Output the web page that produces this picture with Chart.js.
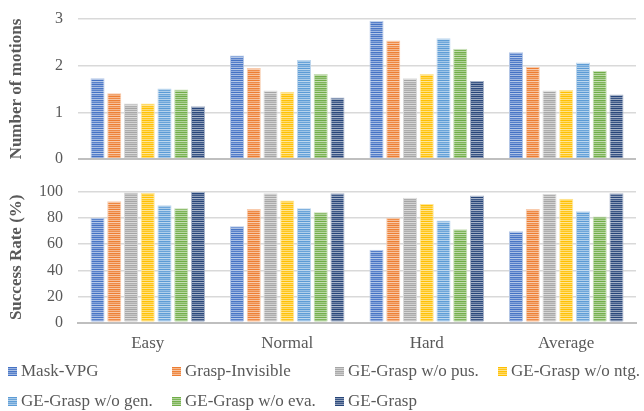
<!DOCTYPE html>
<html>
<head>
<meta charset="utf-8">
<script src="https://cdn.jsdelivr.net/npm/chart.js@4"></script>
<style>
  html, body { margin: 0; padding: 0; background: #fff; }
  #wrap { position: relative; width: 644px; height: 411px; overflow: hidden; }
  #chart-top { position: absolute; left: 0; top: 0; }
  #chart-bottom { position: absolute; left: 0; top: 165px; }
  #legend { position: absolute; left: 0; top: 0; width: 644px; height: 411px; font: 17px "Liberation Serif", serif; color: #595959; }
  .item { position: absolute; height: 20px; line-height: 20px; display: flex; align-items: center; white-space: nowrap; }
  .item canvas { margin-right: 4px; }
</style>
</head>
<body>
<div id="wrap">
  <canvas id="chart-top" width="644" height="170"></canvas>
  <canvas id="chart-bottom" width="644" height="208"></canvas>
  <div id="legend"></div>
</div>
<script>
const categories = ['Easy', 'Normal', 'Hard', 'Average']
const seriesNames = ['Mask-VPG', 'Grasp-Invisible', 'GE-Grasp w/o pus.', 'GE-Grasp w/o ntg.', 'GE-Grasp w/o gen.', 'GE-Grasp w/o eva.', 'GE-Grasp']
const seriesColors = ['#4472C4', '#ED7D31', '#A5A5A5', '#FFC000', '#5B9BD5', '#70AD47', '#264478']

// number of motions
const motionsMaskVPG = [1.73, 2.22, 2.96, 2.29]
const motionsGraspInvisible = [1.41, 1.95, 2.54, 1.97]
const motionsNoPus = [1.19, 1.47, 1.73, 1.47]
const motionsNoNtg = [1.19, 1.44, 1.82, 1.48]
const motionsNoGen = [1.51, 2.12, 2.59, 2.07]
const motionsNoEva = [1.49, 1.82, 2.36, 1.89]
const motionsGEGrasp = [1.13, 1.32, 1.67, 1.38]

// success rate (%)
const successMaskVPG = [80.0, 73.8, 55.7, 69.9]
const successGraspInvisible = [93.0, 87.0, 80.3, 87.0]
const successNoPus = [99.7, 99.0, 95.6, 98.7]
const successNoNtg = [99.2, 93.5, 90.9, 94.8]
const successNoGen = [89.9, 87.6, 78.2, 85.2]
const successNoEva = [87.6, 84.5, 71.5, 81.3]
const successGEGrasp = [100, 99.0, 97.4, 99.0]

const motionsData = [motionsMaskVPG, motionsGraspInvisible, motionsNoPus, motionsNoNtg, motionsNoGen, motionsNoEva, motionsGEGrasp]
const successData = [successMaskVPG, successGraspInvisible, successNoPus, successNoNtg, successNoGen, successNoEva, successGEGrasp]

const textColor = '#595959'
const gridColor = '#d9d9d9'

function mixWhite(hex, t) {
  const n = parseInt(hex.slice(1), 16)
  const r = (n >> 16) & 255, g = (n >> 8) & 255, b = n & 255
  const m = c => Math.round(c + (255 - c) * t)
  return `rgb(${m(r)}, ${m(g)}, ${m(b)})`
}

// striped fill like the office "horizontal lines" texture
const stripeSteps = [0, 0.45, 0.08, 0.55, 0.02, 0.35, 0.12, 0.5, 0, 0.6, 0.1, 0.4]
function makePattern(hex) {
  const c = document.createElement('canvas')
  c.width = 4
  c.height = stripeSteps.length
  const cx = c.getContext('2d')
  stripeSteps.forEach((t, i) => {
    cx.fillStyle = mixWhite(hex, t)
    cx.fillRect(0, i, 4, 1)
  })
  return cx.createPattern(c, 'repeat')
}

const patterns = seriesColors.map(makePattern)

function buildDatasets(values) {
  return seriesNames.map((name, i) => ({
    label: name,
    data: values[i],
    backgroundColor: patterns[i],
    borderColor: mixWhite(seriesColors[i], 0.6),
    borderWidth: 1,
    borderSkipped: 'bottom',
    categoryPercentage: 0.84,
    barPercentage: 0.84
  }))
}

const tickFont = { family: 'Liberation Serif', size: 16 }
const titleFont = { family: 'Liberation Serif', size: 17, weight: 'bold' }

function yAxis(max, step, title) {
  return {
    min: 0,
    max: max,
    // tick gap comes from an invisible tick mark, so it doesn't pad the chart area
    ticks: { stepSize: step, padding: 0, color: textColor, font: tickFont },
    grid: {
      color: ctx => ctx.tick && ctx.tick.value === 0 ? '#bfbfbf' : gridColor,
      lineWidth: ctx => ctx.tick && ctx.tick.value === 0 ? 2 : 1.5,
      drawTicks: true,
      tickLength: 15,
      tickColor: 'rgba(0,0,0,0)'
    },
    border: { display: false },
    title: { display: true, text: title, color: textColor, font: titleFont, padding: { top: 6, bottom: 0 } },
    afterFit: scale => { scale.width = 78 }
  }
}

const topChart = new Chart(document.getElementById('chart-top'), {
  type: 'bar',
  data: { labels: categories, datasets: buildDatasets(motionsData) },
  options: {
    responsive: false,
    animation: false,
    layout: { padding: { top: 19, bottom: 11, left: 0, right: 8 } },
    plugins: { legend: { display: false }, tooltip: { enabled: false } },
    scales: {
      x: { display: false },
      y: yAxis(3, 1, 'Number of motions')
    }
  }
})

const bottomChart = new Chart(document.getElementById('chart-bottom'), {
  type: 'bar',
  data: { labels: categories, datasets: buildDatasets(successData) },
  options: {
    responsive: false,
    animation: false,
    layout: { padding: { top: 27, bottom: 8, left: 0, right: 8 } },
    plugins: { legend: { display: false }, tooltip: { enabled: false } },
    scales: {
      x: {
        ticks: { padding: 11, color: textColor, font: { family: 'Liberation Serif', size: 17 } },
        grid: { display: false, drawTicks: false },
        border: { color: '#bfbfbf', width: 2 }
      },
      y: yAxis(100, 20, 'Success Rate (%)')
    }
  }
})

// legend laid out in columns, as in the source figure
const legendCols = [8, 172, 335, 498]
const legendRows = [371, 401]
const legendEl = document.getElementById('legend')
seriesNames.forEach((name, i) => {
  const item = document.createElement('div')
  item.className = 'item'
  item.style.left = legendCols[i % 4] + 'px'
  item.style.top = (legendRows[Math.floor(i / 4)] - 10) + 'px'
  const box = document.createElement('canvas')
  box.width = 9
  box.height = 9
  const bx = box.getContext('2d')
  bx.fillStyle = makePattern(seriesColors[i])
  bx.fillRect(0, 0, 9, 9)
  item.appendChild(box)
  const label = document.createElement('span')
  label.textContent = name
  item.appendChild(label)
  legendEl.appendChild(item)
})
</script>
</body>
</html>
